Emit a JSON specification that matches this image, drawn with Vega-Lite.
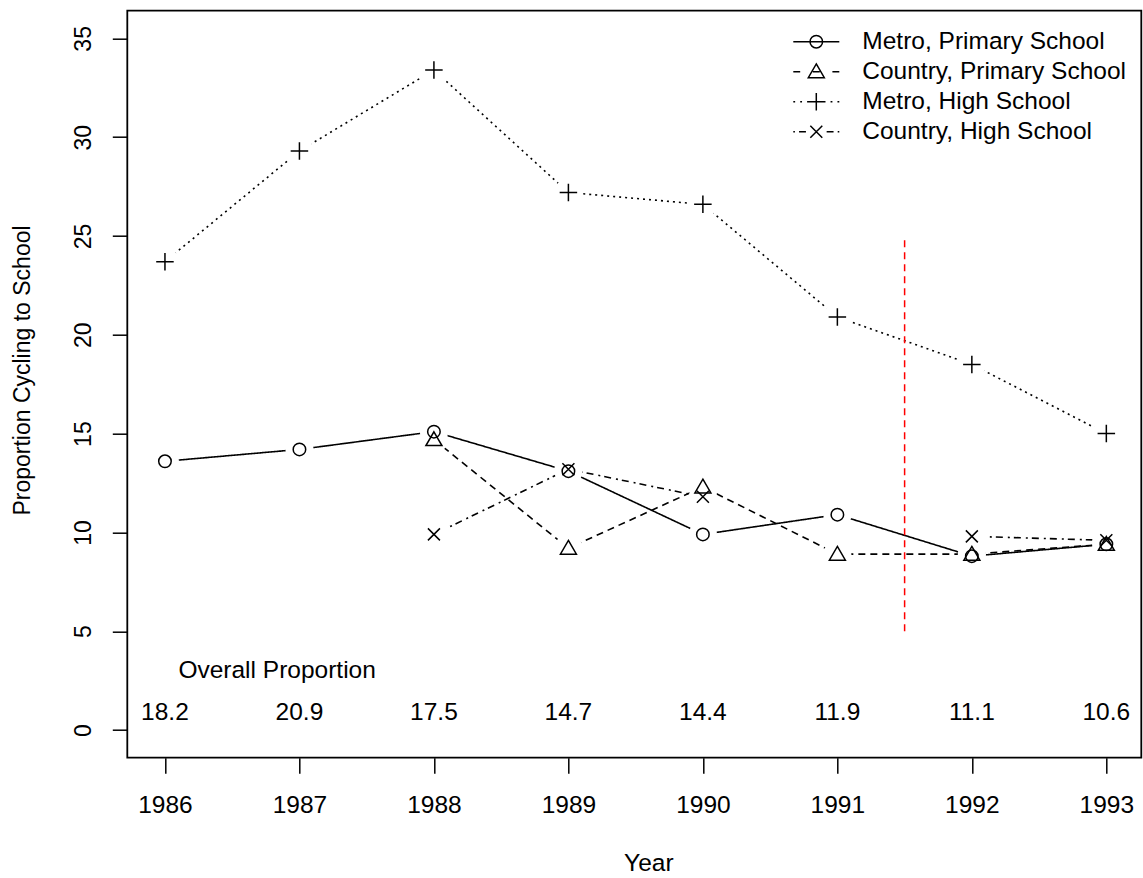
{
  "$schema": "https://vega.github.io/schema/vega-lite/v6.json",
  "width": 1014,
  "height": 747,
  "autosize": "none",
  "padding": {"left": 127.3, "top": 10.7, "right": 1.7, "bottom": 120.3},
  "background": "white",
  "config": {
    "font": "Liberation Sans",
    "view": {"stroke": "black", "strokeWidth": 1.8},
    "axis": {
      "grid": false,
      "domain": false,
      "tickColor": "black",
      "tickWidth": 1.5,
      "labelColor": "black",
      "titleColor": "black",
      "titleFontWeight": "normal",
      "labelFont": "Liberation Sans",
      "titleFont": "Liberation Sans",
      "labelFlush": false,
      "labelOverlap": false
    },
    "legend": {
      "labelFont": "Liberation Sans",
      "labelFontSize": 24.5,
      "labelColor": "black",
      "symbolStrokeWidth": 1.5,
      "symbolStrokeColor": "black",
      "symbolSize": 2116,
      "clipHeight": 30,
      "rowPadding": 0,
      "labelOffset": 22,
      "labelLimit": 0,
      "padding": 0
    }
  },
  "datasets": {
    "series": [
      {"year": 1986, "series": "Metro, Primary School", "value": 13.6},
      {"year": 1987, "series": "Metro, Primary School", "value": 14.2},
      {"year": 1988, "series": "Metro, Primary School", "value": 15.1},
      {"year": 1989, "series": "Metro, Primary School", "value": 13.1},
      {"year": 1990, "series": "Metro, Primary School", "value": 9.9},
      {"year": 1991, "series": "Metro, Primary School", "value": 10.9},
      {"year": 1992, "series": "Metro, Primary School", "value": 8.8},
      {"year": 1993, "series": "Metro, Primary School", "value": 9.4},
      {"year": 1988, "series": "Country, Primary School", "value": 14.7},
      {"year": 1989, "series": "Country, Primary School", "value": 9.2},
      {"year": 1990, "series": "Country, Primary School", "value": 12.3},
      {"year": 1991, "series": "Country, Primary School", "value": 8.9},
      {"year": 1992, "series": "Country, Primary School", "value": 8.9},
      {"year": 1993, "series": "Country, Primary School", "value": 9.4},
      {"year": 1986, "series": "Metro, High School", "value": 23.7},
      {"year": 1987, "series": "Metro, High School", "value": 29.3},
      {"year": 1988, "series": "Metro, High School", "value": 33.4},
      {"year": 1989, "series": "Metro, High School", "value": 27.2},
      {"year": 1990, "series": "Metro, High School", "value": 26.6},
      {"year": 1991, "series": "Metro, High School", "value": 20.9},
      {"year": 1992, "series": "Metro, High School", "value": 18.5},
      {"year": 1993, "series": "Metro, High School", "value": 15.0},
      {"year": 1988, "series": "Country, High School", "value": 9.9},
      {"year": 1989, "series": "Country, High School", "value": 13.2},
      {"year": 1990, "series": "Country, High School", "value": 11.8},
      {"year": 1991, "series": "Country, High School", "value": null},
      {"year": 1992, "series": "Country, High School", "value": 9.8},
      {"year": 1993, "series": "Country, High School", "value": 9.6}
    ],
    "overall": [
      {"year": 1986, "proportion": 18.2},
      {"year": 1987, "proportion": 20.9},
      {"year": 1988, "proportion": 17.5},
      {"year": 1989, "proportion": 14.7},
      {"year": 1990, "proportion": 14.4},
      {"year": 1991, "proportion": 11.9},
      {"year": 1992, "proportion": 11.1},
      {"year": 1993, "proportion": 10.6}
    ]
  },
  "layer": [
    {
      "data": {"name": "series"},
      "mark": {"type": "line", "color": "black", "strokeWidth": 1.6, "invalid": "break-paths-filter-domains"},
      "encoding": {
        "x": {
          "field": "year",
          "type": "quantitative",
          "scale": {"domain": [1985.72, 1993.26], "nice": false, "zero": false},
          "axis": {
            "values": [1986, 1987, 1988, 1989, 1990, 1991, 1992, 1993],
            "format": "d",
            "tickSize": 15.5,
            "labelFontSize": 24.5,
            "labelPadding": 20.4,
            "title": "Year",
            "titleFontSize": 24.5,
            "titleX": 521,
            "titleY": 113,
            "titleBaseline": "alphabetic"
          }
        },
        "y": {
          "field": "value",
          "type": "quantitative",
          "scale": {"domain": [-1.4, 36.4], "nice": false, "zero": false},
          "axis": {
            "values": [0, 5, 10, 15, 20, 25, 30, 35],
            "tickSize": 15,
            "labelAngle": -90,
            "labelAlign": "center",
            "labelBaseline": "alphabetic",
            "labelPadding": 21.5,
            "labelFontSize": 23,
            "title": "Proportion Cycling to School",
            "titleFontSize": 23,
            "titleAngle": -90,
            "titleX": -97.8,
            "titleY": 359.3,
            "titleBaseline": "alphabetic"
          }
        },
        "strokeDash": {
          "field": "series",
          "type": "nominal",
          "scale": {
            "domain": ["Metro, Primary School", "Country, Primary School", "Metro, High School", "Country, High School"],
            "range": [[1, 0], [7, 5], [2, 4], [2, 4, 7, 5]]
          },
          "legend": null
        }
      }
    },
    {
      "data": {"name": "series"},
      "mark": {"type": "point", "shape": "circle", "size": 784, "filled": true, "fill": "white", "color": "white", "opacity": 1, "fillOpacity": 1, "strokeWidth": 0},
      "encoding": {
        "x": {"field": "year", "type": "quantitative"},
        "y": {"field": "value", "type": "quantitative"}
      }
    },
    {
      "data": {"name": "series"},
      "mark": {"type": "point", "filled": false, "color": "black", "strokeWidth": 1.5, "size": 100, "opacity": 1},
      "encoding": {
        "x": {"field": "year", "type": "quantitative"},
        "y": {"field": "value", "type": "quantitative"},
        "shape": {
          "field": "series",
          "type": "nominal",
          "scale": {
            "domain": ["Metro, Primary School", "Country, Primary School", "Metro, High School", "Country, High School"],
            "range": [
              "M1.25,0A1.25,1.25,0,1,1,-1.25,0A1.25,1.25,0,1,1,1.25,0Z",
              "M0,-1.55L1.6,1.2L-1.6,1.2Z",
              "M-1.75,0H1.75M0,-1.75V1.75",
              "M-1.2,-1.2L1.2,1.2M-1.2,1.2L1.2,-1.2"
            ]
          },
          "legend": null
        }
      }
    },
    {
      "data": {"name": "series"},
      "transform": [{"filter": "false"}],
      "mark": {"type": "point", "filled": false, "color": "black", "strokeWidth": 1.5, "opacity": 1},
      "encoding": {
        "x": {"field": "year", "type": "quantitative"},
        "y": {"field": "value", "type": "quantitative"},
        "shape": {
          "field": "series",
          "type": "nominal",
          "scale": {
            "domain": ["Metro, Primary School", "Country, Primary School", "Metro, High School", "Country, High School"],
            "range": [
              "M-1,0H1M0.272,0A0.272,0.272,0,1,1,-0.272,0A0.272,0.272,0,1,1,0.272,0Z",
              "M-1,0H-0.7M-0.15,0H0.15M0.7,0H1M0,-0.337L0.348,0.26L-0.348,0.26Z",
              "M-1,0H-0.92M-0.7,0H-0.62M-0.4,0H-0.32M0.32,0H0.4M0.62,0H0.7M0.92,0H1M-0.38,0H0.38M0,-0.38V0.38",
              "M-1,0H-0.93M-0.75,0H-0.45M0.45,0H0.75M0.93,0H1M-0.26,-0.26L0.26,0.26M-0.26,0.26L0.26,-0.26"
            ]
          },
          "legend": {"orient": "none", "legendX": 665, "legendY": 16, "title": null}
        }
      }
    },
    {
      "data": {"values": [{}]},
      "mark": {"type": "rule", "color": "#ff0000", "strokeWidth": 1.5, "strokeDash": [7, 5]},
      "encoding": {
        "x": {"datum": 1991.5, "type": "quantitative"},
        "y": {"datum": 5, "type": "quantitative"},
        "y2": {"datum": 25}
      }
    },
    {
      "data": {"name": "overall"},
      "mark": {"type": "text", "fontSize": 24.5, "baseline": "middle", "align": "center", "color": "black", "font": "Liberation Sans"},
      "encoding": {
        "x": {"field": "year", "type": "quantitative"},
        "y": {"datum": 0.85, "type": "quantitative"},
        "text": {"field": "proportion", "type": "quantitative", "format": ".1f"}
      }
    },
    {
      "data": {"values": [{}]},
      "mark": {"type": "text", "text": "Overall Proportion", "fontSize": 24.5, "baseline": "middle", "align": "left", "color": "black", "font": "Liberation Sans"},
      "encoding": {
        "x": {"datum": 1986.1, "type": "quantitative"},
        "y": {"datum": 3, "type": "quantitative"}
      }
    }
  ],
  "resolve": {"scale": {"shape": "independent"}}
}
